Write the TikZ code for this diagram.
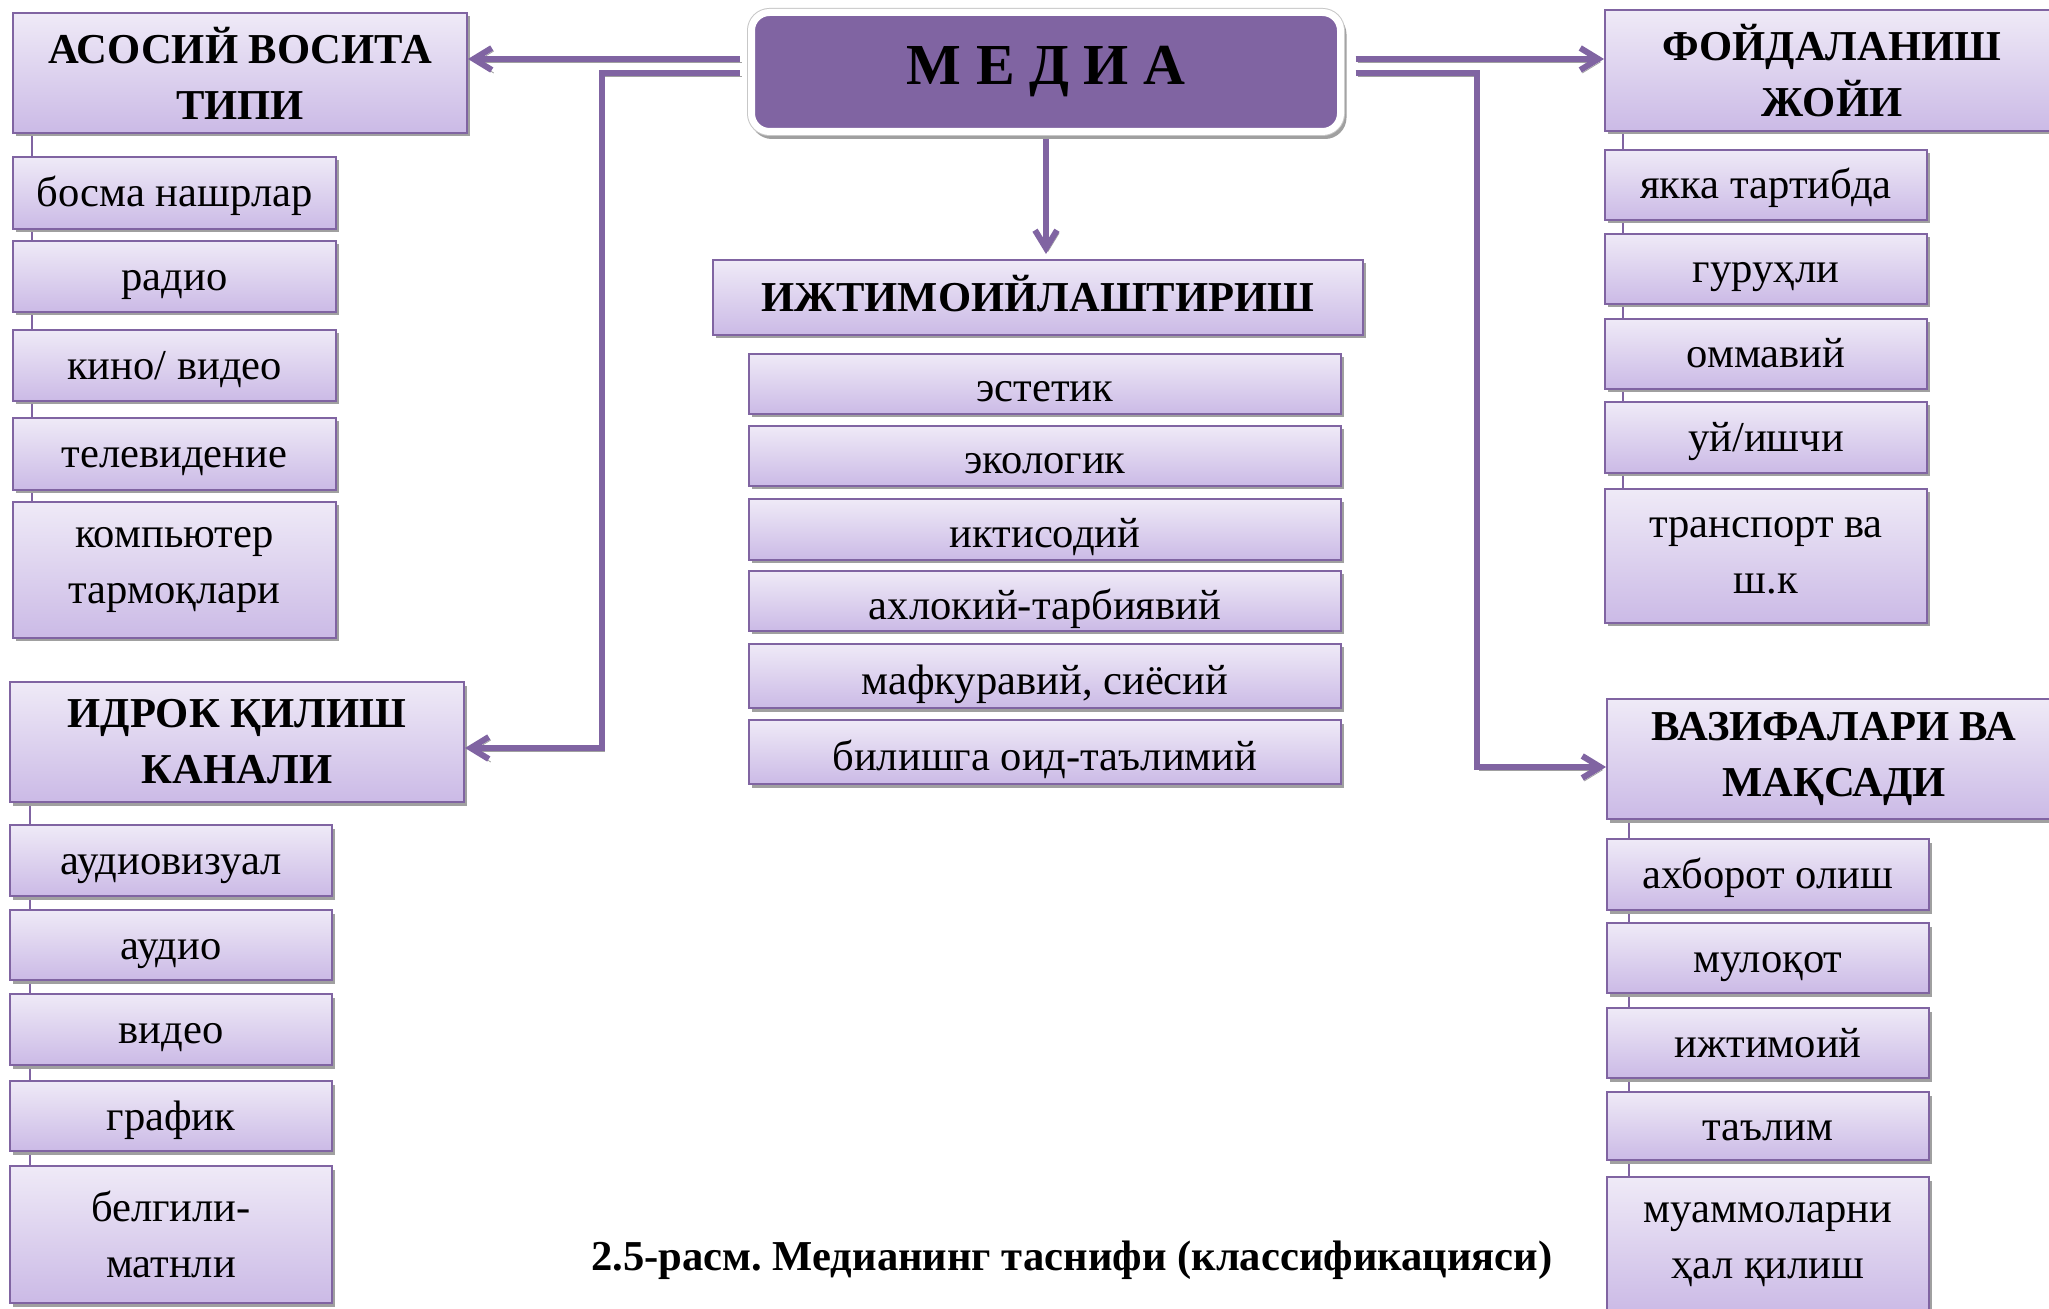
\documentclass[tikz,border=0pt]{standalone}
\usepackage{fontspec}
\setmainfont{Liberation Serif}
\frenchspacing
\usetikzlibrary{arrows.meta,backgrounds,calc}
\definecolor{mpurple}{RGB}{128,100,162}
\definecolor{ltop}{RGB}{239,234,247}
\definecolor{lbot}{RGB}{203,186,230}
\definecolor{shgray}{RGB}{160,160,160}
\tikzset{
 box/.style={draw=mpurple, line width=1pt, top color=ltop, bottom color=lbot,
   inner sep=0pt, align=center, font=\fontsize{21.3}{28}\selectfont,
   preaction={fill=shgray, draw=none, shade=false, transform canvas={shift={(1.25pt,-1.75pt)}}}},
 hdr/.style={font=\fontsize{21.3}{28}\selectfont\bfseries},
 oneline/.style={text height=17pt, text depth=3pt},
 lowline/.style={text height=21pt, text depth=3pt},
 conn/.style={draw=mpurple, line width=3pt,
   preaction={draw=shgray, transform canvas={shift={(1pt,-1.5pt)}}}},
 arrowend/.style={-{Straight Barb[length=9pt,width=11pt]}},
 thinconn/.style={draw=mpurple, line width=1pt},
 mediabox/.style={fill=mpurple, draw=white, line width=3.5pt, rounded corners=9pt,
   inner sep=0pt, font=\fontsize{29}{34}\selectfont\bfseries,
   preaction={fill=shgray, draw=shgray, transform canvas={shift={(1.25pt,-2pt)}}},
   preaction={draw=black!22, line width=4.5pt}}
}
\newcommand\mkbox[7][]{\node[box,#1,minimum width={0.5pt*(#5-#3)},minimum height={0.5pt*(#6-#4)}] (#2) at ({(#3+#5)/2},{(#4+#6)/2}) {#7};}
\begin{document}
\begin{tikzpicture}[x=0.5pt,y=-0.5pt]
\useasboundingbox (0,0) rectangle (2049,1309);
% left top
\mkbox[hdr]{h1}{13}{13}{467}{133}{АСОСИЙ ВОСИТА\\ТИПИ}
\mkbox[oneline]{a1}{13}{157}{336}{229}{босма нашрлар}
\mkbox[oneline]{a2}{13}{241}{336}{312}{радио}
\mkbox[oneline]{a3}{13}{330}{336}{401}{кино/ видео}
\mkbox[oneline]{a4}{13}{418}{336}{490}{телевидение}
\mkbox{a5}{13}{502}{336}{638}{компьютер\\тармоқлари}
% left bottom
\mkbox[hdr]{h2}{10}{682}{464}{802}{ИДРОК ҚИЛИШ\\КАНАЛИ}
\mkbox[oneline]{b1}{10}{825}{332}{896}{аудиовизуал}
\mkbox[oneline]{b2}{10}{910}{332}{980}{аудио}
\mkbox[oneline]{b3}{10}{994}{332}{1065}{видео}
\mkbox[oneline]{b4}{10}{1081}{332}{1151}{график}
\mkbox{b5}{10}{1166}{332}{1303}{белгили-\\матнли}
% centre
\node[mediabox, minimum width=294.5pt, minimum height=59.5pt] (media) at (1046,72) {М Е Д И А};
\mkbox[hdr,text height=16pt,text depth=1.5pt]{ij}{713}{260}{1363}{335}{ИЖТИМОИЙЛАШТИРИШ}
\mkbox[lowline]{c1}{749}{354}{1341}{414}{эстетик}
\mkbox[lowline]{c2}{749}{426}{1341}{486}{экологик}
\mkbox[lowline]{c3}{749}{499}{1341}{560}{иктисодий}
\mkbox[lowline]{c4}{749}{571}{1341}{631}{ахлокий-тарбиявий}
\mkbox[lowline]{c5}{749}{644}{1341}{708}{мафкуравий, сиёсий}
\mkbox[lowline]{c6}{749}{720}{1341}{784}{билишга оид-таълимий}
% right top
\mkbox[hdr]{h3}{1605}{10}{2059}{131}{ФОЙДАЛАНИШ\\ЖОЙИ}
\mkbox[oneline]{d1}{1605}{150}{1927}{220}{якка тартибда}
\mkbox[oneline]{d2}{1605}{234}{1927}{304}{гуруҳли}
\mkbox[oneline]{d3}{1605}{319}{1927}{389}{оммавий}
\mkbox[oneline]{d4}{1605}{402}{1927}{473}{уй/ишчи}
\mkbox{d5}{1605}{489}{1927}{623}{транспорт ва\\ш.к}
% right bottom
\mkbox[hdr]{h4}{1607}{699}{2061}{819}{ВАЗИФАЛАРИ ВА\\МАҚСАДИ}
\mkbox[oneline]{e1}{1607}{839}{1929}{910}{ахборот олиш}
\mkbox[oneline]{e2}{1607}{923}{1929}{993}{мулоқот}
\mkbox[oneline]{e3}{1607}{1008}{1929}{1078}{ижтимоий}
\mkbox[oneline]{e4}{1607}{1092}{1929}{1160}{таълим}
\mkbox{e5}{1607}{1177}{1929}{1313}{муаммоларни\\ҳал қилиш}
% caption
\node[anchor=base, font=\fontsize{21.3}{28}\selectfont\bfseries] (caption) at (1072,1270) {2.5-расм. Медианинг таснифи (классификацияси)};
% thick connectors
\coordinate (mL1) at ($(media.west)+(-8.5,-13)$);
\coordinate (mL2) at ($(media.west)+(-8.5,1)$);
\coordinate (mR1) at ($(media.east)+(11.5,-13)$);
\coordinate (mR2) at ($(media.east)+(11.5,1)$);
\coordinate (kL) at (602,748);
\coordinate (kR) at (1477,767);
\draw[conn,arrowend] (mL1) -- (mL1 -| h1.east);
\draw[conn,arrowend] (mL2) -| (kL) -- (kL -| h2.east);
\draw[conn,arrowend] (mR1) -- (mR1 -| h3.west);
\draw[conn,arrowend] (mR2) -| (kR) -- (kR -| h4.west);
\draw[conn,arrowend,shorten <=2pt,shorten >=2.5pt] (media.south) -- (media.south |- ij.north);
% thin connectors behind
\coordinate (t1) at ([xshift=10pt]h1.south west);
\coordinate (t2) at ([xshift=10.5pt]h2.south west);
\coordinate (t3) at ([xshift=9.5pt]h3.south west);
\coordinate (t4) at ([xshift=11.5pt]h4.south west);
\begin{pgfonlayer}{background}
\fill[white] (0,0) rectangle (2049,1309);
\draw[thinconn] (t1) -- (t1 |- a5.north);
\draw[thinconn] (t2) -- (t2 |- b5.north);
\draw[thinconn] (t3) -- (t3 |- d5.north);
\draw[thinconn] (t4) -- (t4 |- e5.north);
\end{pgfonlayer}
\end{tikzpicture}
\end{document}
